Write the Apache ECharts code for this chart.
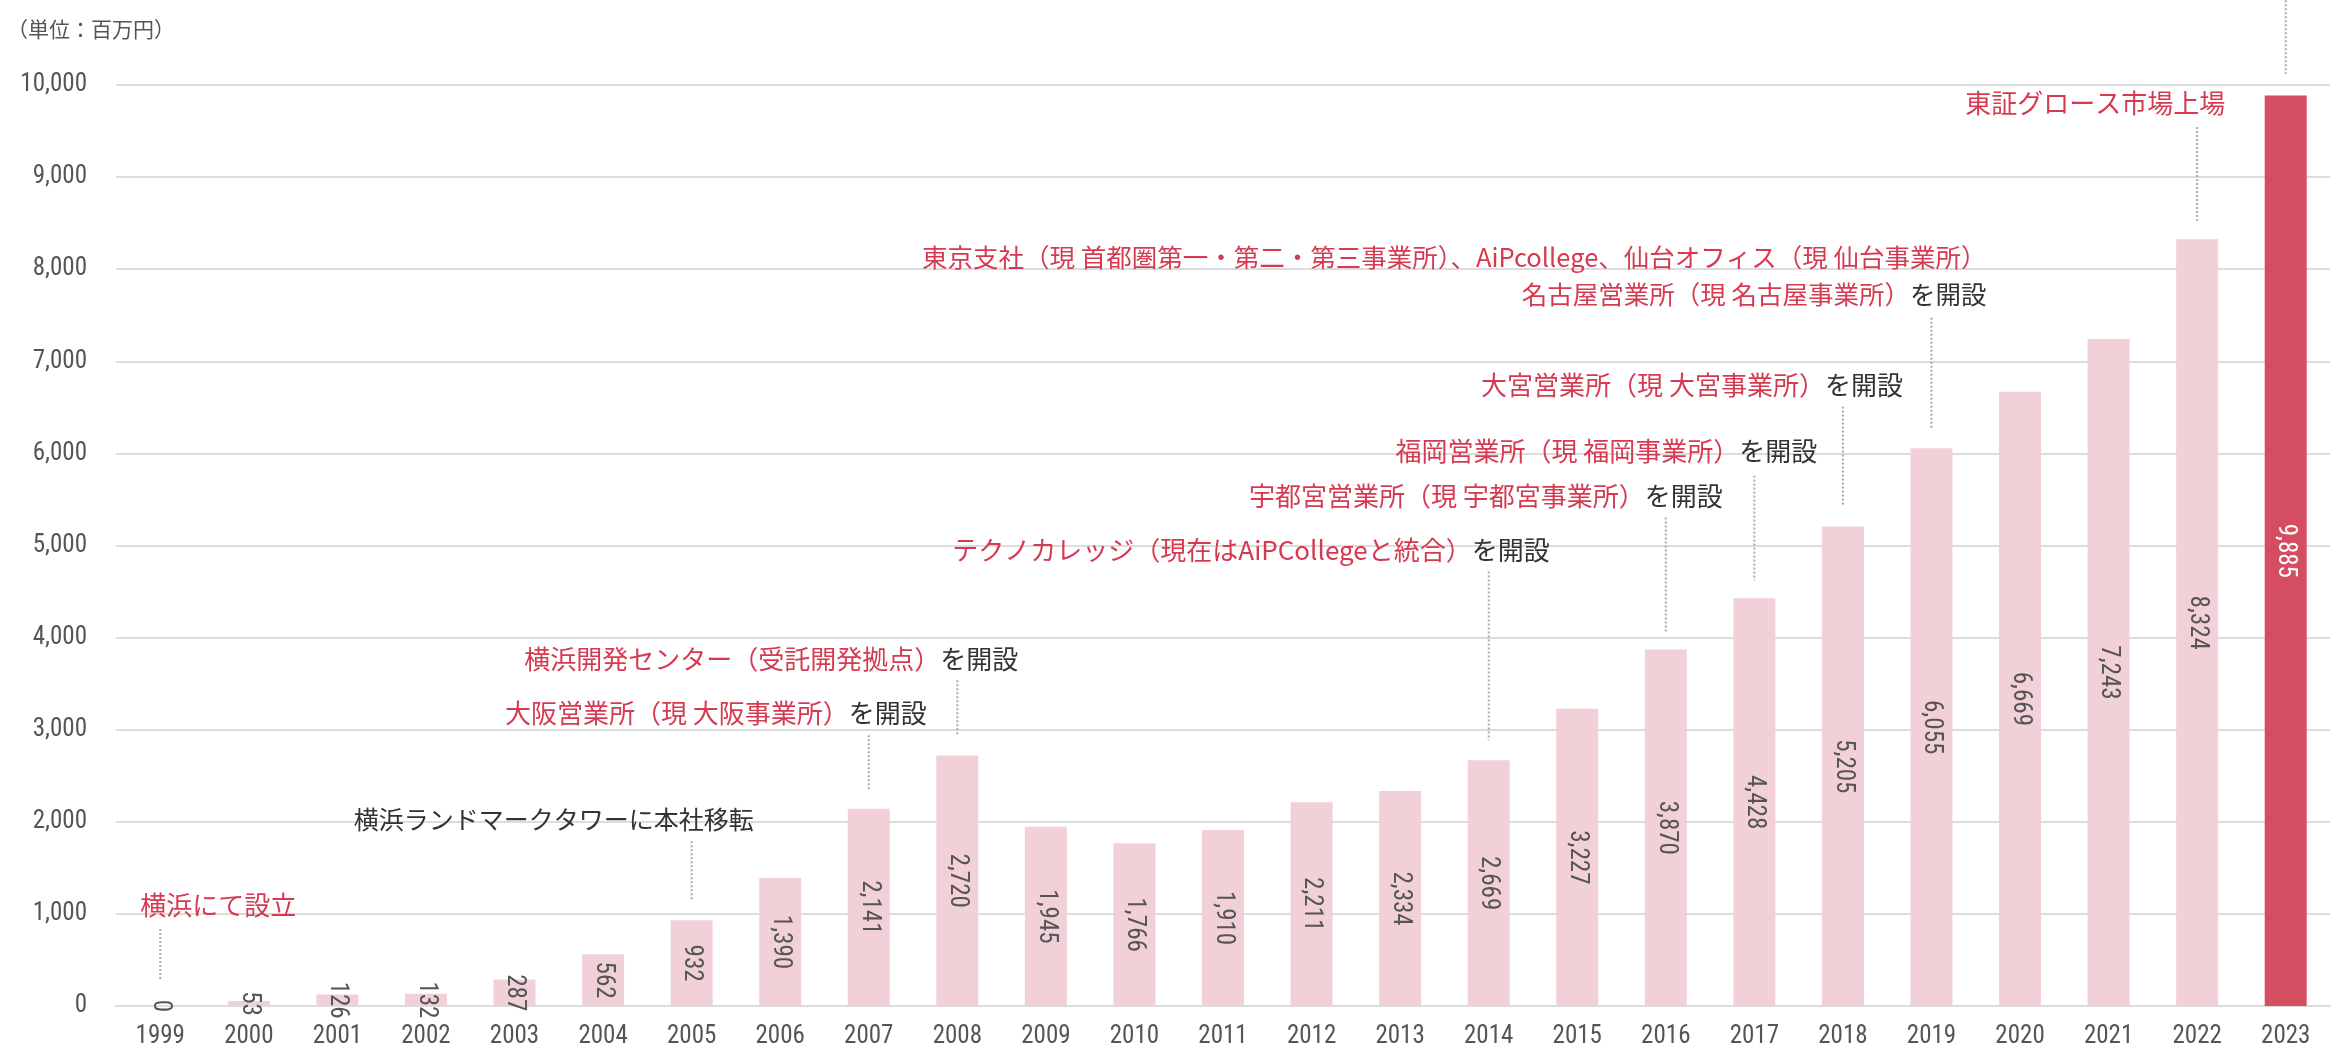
<!DOCTYPE html>
<html lang="ja">
<head>
<meta charset="utf-8">
<title>売上高推移</title>
<script src="https://cdn.jsdelivr.net/npm/echarts@6/dist/echarts.min.js"></script>
<style>
  html, body { margin: 0; padding: 0; background: #fff; }
  #chart { width: 2343px; height: 1060px; }
</style>
</head>
<body>
<div id="chart"></div>
<script>
// 売上高（単位：百万円）
const years = ['1999','2000','2001','2002','2003','2004','2005','2006','2007','2008','2009','2010',
  '2011','2012','2013','2014','2015','2016','2017','2018','2019','2020','2021','2022','2023'];
const sales = [0, 53, 126, 132, 287, 562, 932, 1390, 2141, 2720, 1945, 1766,
  1910, 2211, 2334, 2669, 3227, 3870, 4428, 5205, 6055, 6669, 7243, 8324, 9885];
const yTicks = [0, 1000, 2000, 3000, 4000, 5000, 6000, 7000, 8000, 9000, 10000];

// 沿革の注記（赤字部分・黒字部分・注記の高さ）
const noteYears = ['1999','2005','2007','2008','2014','2016','2017','2018','2019','2022'];
const noteRed = [
  '横浜にて設立',
  '',
  '大阪営業所（現 大阪事業所）',
  '横浜開発センター（受託開発拠点）',
  'テクノカレッジ（現在はAiPCollegeと統合）',
  '宇都宮営業所（現 宇都宮事業所）',
  '福岡営業所（現 福岡事業所）',
  '大宮営業所（現 大宮事業所）',
  '東京支社（現 首都圏第一・第二・第三事業所）、AiPcollege、仙台オフィス（現 仙台事業所）\n名古屋営業所（現 名古屋事業所）',
  '東証グロース市場上場'
];
const noteBlack = ['', '横浜ランドマークタワーに本社移転', 'を開設', 'を開設', 'を開設', 'を開設', 'を開設', 'を開設', 'を開設', ''];
const noteLevel = [1095, 2028, 3178, 3764, 4946, 5531, 6020, 6746, 7923, 9805];

// 引き出し線（上端・下端の値）
const leaderYears = ['1999','2005','2007','2008','2014','2016','2017','2018','2019','2022','2023'];
const leaderTop = [835, 1790, 2939, 3536, 4718, 5304, 5759, 6508, 7473, 9544, 10920];
const leaderBottom = [293, 1150, 2354, 2939, 2885, 4067, 4620, 5434, 6258, 8525, 10119];

// 注記テキストの右端のずれ（px）と文字サイズ
const noteShift = [136, 62, 58, 61, 61, 57, 63, 60, 55, 28];
const noteSize = [26, 25, 26, 26, 26, 26, 26, 26, 25.5, 26];

const RED = '#d63a50';
const PINK = '#f2d0d8';
const DARK_BAR = '#d44d61';
const GRAY_TEXT = '#555555';
const GRID = '#dcdcdc';
const NUM_FONT = '"Roboto Condensed", "DejaVu Sans Condensed", sans-serif';
const JP_FONT = '"Noto Sans CJK JP", "Noto Sans", sans-serif';

const fmt = v => String(v).replace(/\B(?=(\d{3})+(?!\d))/g, ',');

const barData = sales.map((v, i) => {
  const last = i === sales.length - 1;
  return {
    value: v,
    itemStyle: { color: last ? DARK_BAR : PINK },
    label: { color: last ? '#ffffff' : GRAY_TEXT }
  };
});

const leaderData = leaderYears.map((y, i) => [y, leaderTop[i], leaderBottom[i]]);
const noteData = noteYears.map((y, i) => [y, noteLevel[i]]);

const chart = echarts.init(document.getElementById('chart'), null, { renderer: 'canvas' });

chart.setOption({
  animation: false,
  backgroundColor: '#ffffff',
  title: {
    text: '（単位：百万円）',
    left: 2,
    top: 14,
    textStyle: { fontFamily: JP_FONT, fontSize: 21, fontWeight: 'normal', color: GRAY_TEXT }
  },
  grid: { left: 116, right: 13, top: 85, bottom: 54, containLabel: false },
  xAxis: {
    type: 'category',
    data: years,
    axisLine: { show: true, lineStyle: { color: GRID, width: 2 } },
    axisTick: { show: false },
    axisLabel: { color: GRAY_TEXT, fontFamily: NUM_FONT, fontSize: 25, margin: 18 }
  },
  yAxis: {
    type: 'value',
    min: yTicks[0],
    max: yTicks[yTicks.length - 1],
    interval: yTicks[1] - yTicks[0],
    axisLine: { show: false },
    axisTick: { show: false },
    splitLine: { lineStyle: { color: GRID, width: 2 } },
    axisLabel: { color: GRAY_TEXT, fontFamily: NUM_FONT, fontSize: 25, margin: 29, formatter: v => fmt(v) }
  },
  series: [
    {
      type: 'bar',
      data: barData,
      barWidth: 42,
      label: {
        show: true,
        position: 'inside',
        rotate: -90,
        fontFamily: NUM_FONT,
        fontSize: 25,
        formatter: p => fmt(p.value)
      },
      z: 2
    },
    {
      // 引き出し線
      type: 'custom',
      silent: true,
      clip: false,
      data: leaderData,
      encode: { x: 0, y: [1, 2] },
      renderItem: (params, api) => {
        const p1 = api.coord([api.value(0), api.value(1)]);
        const p2 = api.coord([api.value(0), api.value(2)]);
        return {
          type: 'line',
          shape: { x1: p1[0], y1: p1[1], x2: p2[0], y2: p2[1] },
          style: { stroke: '#aaaaaa', lineWidth: 2, lineDash: [2, 2] }
        };
      },
      z: 3
    },
    {
      // 沿革の注記
      type: 'custom',
      silent: true,
      clip: false,
      data: noteData,
      encode: { x: 0, y: 1 },
      renderItem: (params, api) => {
        const i = params.dataIndex;
        const p = api.coord([api.value(0), api.value(1)]);
        let text = '';
        if (noteRed[i]) text += noteRed[i].split('\n').map(s => '{r|' + s + '}').join('\n');
        if (noteBlack[i]) text += '{k|' + noteBlack[i] + '}';
        const base = { fontFamily: JP_FONT, fontSize: noteSize[i], lineHeight: 37 };
        return {
          type: 'text',
          x: p[0] + noteShift[i],
          y: p[1],
          style: {
            text: text,
            fontFamily: JP_FONT,
            fontSize: noteSize[i],
            lineHeight: 37,
            align: 'right',
            verticalAlign: 'middle',
            rich: {
              r: Object.assign({ fill: RED }, base),
              k: Object.assign({ fill: '#333333' }, base)
            }
          }
        };
      },
      z: 4
    }
  ]
});
</script>
</body>
</html>
